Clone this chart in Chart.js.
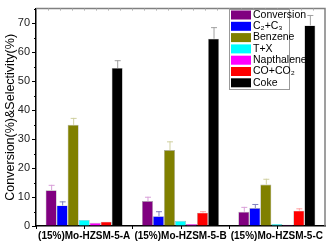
<!DOCTYPE html>
<html>
<head>
<meta charset="utf-8">
<script src="https://cdn.jsdelivr.net/npm/chart.js@4"></script>
<style>
  html, body { margin: 0; padding: 0; background: #fff; }
  #wrap { width: 332px; height: 242px; position: relative; }
</style>
</head>
<body>
<div id="wrap"><canvas id="chart"></canvas></div>
<script>
const categories = ['(15%)Mo-HZSM-5-A', '(15%)Mo-HZSM-5-B', '(15%)Mo-HZSM-5-C'];
const seriesNames = ['Conversion', 'C₂+C₃', 'Benzene', 'T+X', 'Napthalene', 'CO+CO₂', 'Coke'];
const seriesColors = ['#800080', '#0000ff', '#808000', '#00ffff', '#ff00ff', '#ff0000', '#000000'];
const errColors = ['#d9a0d9', '#8080c0', '#d0d0a0', '#a0ffff', '#ffa0ff', '#ffa0a0', '#a0a0a0'];

// values per series, one per catalyst
const conversion = [12.3, 8.6, 4.9];
const c2c3 = [7.1, 3.4, 6.2];
const benzene = [34.9, 26.2, 14.3];
const tx = [2.1, 1.8, 0.7];
const napthalene = [1.1, 0.7, 0.4];
const coCo2 = [1.5, 4.6, 5.3];
const coke = [54.5, 64.6, 69.2];

// upper end of the error bars
const conversionErr = [14.2, 10.1, 6.6];
const c2c3Err = [8.5, 5.1, 7.6];
const benzeneErr = [37.3, 29.2, 16.3];
const txErr = [2.1, 1.8, 0.7];
const napthaleneErr = [1.1, 0.7, 0.4];
const coCo2Err = [1.5, 5.1, 6.1];
const cokeErr = [57.2, 68.6, 72.8];

const yTicks = [0, 10, 20, 30, 40, 50, 60, 70];

const values = [conversion, c2c3, benzene, tx, napthalene, coCo2, coke];
const errors = [conversionErr, c2c3Err, benzeneErr, txErr, napthaleneErr, coCo2Err, cokeErr];

const datasets = values.map((v, i) => ({
    label: seriesNames[i],
    data: v,
    errTop: errors[i],
    errColor: errColors[i],
    backgroundColor: seriesColors[i],
    borderColor: 'rgba(0,0,0,0.35)',
    borderWidth: 0.6,
    barPercentage: 1,
    categoryPercentage: 0.8
}));

// error bars, frame and minor ticks
const extras = {
    id: 'extras',
    afterDatasetsDraw(chart) {
        const ctx = chart.ctx;
        const y = chart.scales.y;
        chart.data.datasets.forEach((ds, i) => {
            const meta = chart.getDatasetMeta(i);
            meta.data.forEach((bar, j) => {
                const top = y.getPixelForValue(ds.errTop[j]);
                if (bar.y - top < 1) return;
                ctx.save();
                ctx.strokeStyle = ds.errColor;
                ctx.lineWidth = 1;
                ctx.beginPath();
                ctx.moveTo(bar.x + 0.5, bar.y);
                ctx.lineTo(bar.x + 0.5, top);
                ctx.moveTo(bar.x - 2.5, top + 0.5);
                ctx.lineTo(bar.x + 3.5, top + 0.5);
                ctx.stroke();
                ctx.restore();
            });
        });
    },
    afterDraw(chart) {
        const ctx = chart.ctx;
        const a = chart.chartArea;
        const y = chart.scales.y;
        ctx.save();
        // top and right frame
        ctx.strokeStyle = '#808080';
        ctx.lineWidth = 1.5;
        ctx.beginPath();
        ctx.moveTo(a.left, a.top);
        ctx.lineTo(a.right, a.top);
        ctx.lineTo(a.right, a.bottom);
        ctx.stroke();
        // minor y ticks
        ctx.strokeStyle = '#000';
        ctx.lineWidth = 1;
        for (let v = 5; v <= 75; v += 10) {
            const py = Math.round(y.getPixelForValue(v)) + 0.5;
            ctx.beginPath();
            ctx.moveTo(a.left - 2, py);
            ctx.lineTo(a.left, py);
            ctx.stroke();
        }
        // x ticks at centers and boundaries
        const n = chart.data.labels.length;
        const w = (a.right - a.left) / n;
        for (let k = 0; k < n * 2; k++) {
            const px = Math.round(a.left + w * k / 2) + 0.5;
            ctx.beginPath();
            ctx.moveTo(px, a.bottom);
            ctx.lineTo(px, a.bottom + 3);
            ctx.stroke();
        }
        // top mirrored minor ticks
        ctx.strokeStyle = '#b0b0b0';
        for (let k = 1; k < n * 8; k++) {
            const px = Math.round(a.left + w * k / 8) + 0.5;
            ctx.beginPath();
            ctx.moveTo(px, a.top);
            ctx.lineTo(px, a.top + 2);
            ctx.stroke();
        }
        // legend box
        const lx = 229, ly = 9, lw = 60, lh = 80;
        ctx.fillStyle = '#fff';
        ctx.fillRect(lx, ly, lw, lh);
        ctx.strokeStyle = '#999';
        ctx.lineWidth = 1;
        ctx.strokeRect(lx + 0.5, ly + 0.5, lw, lh);
        ctx.font = '10.5px "Liberation Sans", Arial, sans-serif';
        ctx.textBaseline = 'middle';
        chart.data.datasets.forEach((ds, i) => {
            const cy = ly + 6 + i * 11.3;
            ctx.fillStyle = ds.backgroundColor;
            ctx.fillRect(lx + 2, cy - 4.5, 20, 9);
            ctx.fillStyle = '#000';
            ctx.fillText(ds.label, lx + 24, cy);
        });
        ctx.restore();
    }
};

new Chart(document.getElementById('chart'), {
    type: 'bar',
    data: { labels: categories, datasets: datasets },
    options: {
        responsive: true,
        maintainAspectRatio: false,
        animation: false,
        layout: { padding: { top: 3, right: 7, left: 3, bottom: 0 } },
        plugins: { legend: { display: false }, tooltip: { enabled: false } },
        scales: {
            x: {
                grid: { display: false, drawTicks: false },
                border: { color: '#000', width: 1.5 },
                ticks: {
                    color: '#000',
                    padding: 4,
                    maxRotation: 0,
                    autoSkip: false,
                    font: { family: 'Liberation Sans', size: 10, weight: 'bold' }
                },
                afterFit(scale) { scale.height = 16; }
            },
            y: {
                min: 0,
                max: 75,
                afterBuildTicks(scale) { scale.ticks = yTicks.map(v => ({ value: v })); },
                grid: { drawOnChartArea: false, tickLength: 4, color: '#000', tickWidth: 1 },
                border: { color: '#000', width: 1.5 },
                ticks: {
                    color: '#222',
                    padding: 2,
                    font: { family: 'Liberation Sans', size: 11 }
                },
                title: {
                    display: true,
                    text: 'Conversion(%)&Selectivity(%)',
                    color: '#000',
                    padding: 0,
                    font: { family: 'Liberation Sans', size: 12.5 }
                },
                afterFit(scale) { scale.width = 33; }
            }
        }
    },
    plugins: [extras]
});
</script>
</body>
</html>
